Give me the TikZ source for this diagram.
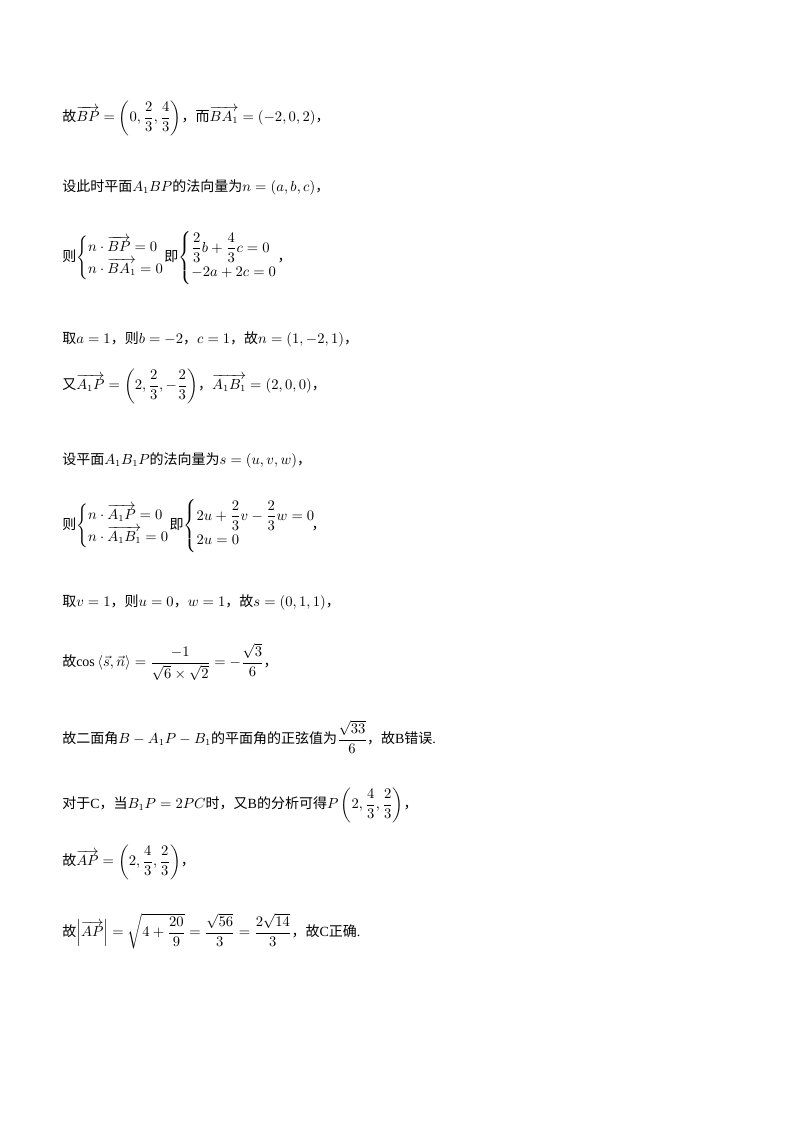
\documentclass[tikz,border=0pt]{standalone}
\usepackage{amsmath}
\usepackage{fontspec}
\setmainfont{Liberation Serif}
\newfontfamily\cjk{Noto Sans CJK SC}
\begin{document}
\begin{tikzpicture}[x=0.75pt,y=-0.75pt]
\useasboundingbox (0,0) rectangle (800,1132);
\tikzset{ln/.style={anchor=west,inner sep=0pt,font=\fontsize{10.5pt}{13pt}\selectfont}}
\newcommand\zh[1]{{\cjk #1}}
\node[ln] (l1) at (62,118) {\zh{故}$\overrightarrow{BP}=\left(0,\dfrac23,\dfrac43\right)$\zh{，而}$\overrightarrow{BA_1}=(-2,0,2)$\zh{，}};
\node[ln] (l2) at (62,187) {\zh{设此时平面}$A_1BP$\zh{的法向量为}$n=(a,b,c)$\zh{，}};
\node[ln] (l3) at (62,258) {\zh{则}$\begin{cases} n\cdot\overrightarrow{BP}=0\\ n\cdot\overrightarrow{BA_1}=0\end{cases}\hspace{-1em}$\zh{即}$\begin{cases}\dfrac23 b+\dfrac43 c=0\\ -2a+2c=0\end{cases}\hspace{-1em}$\zh{，}};
\node[ln] (l4) at (62,339) {\zh{取}$a=1$\zh{，则}$b=-2$\zh{，}$c=1$\zh{，故}$n=(1,-2,1)$\zh{，}};
\node[ln] (l5) at (62,386) {\zh{又}$\overrightarrow{A_1P}=\left(2,\dfrac23,-\dfrac23\right)$\zh{，}$\overrightarrow{A_1B_1}=(2,0,0)$\zh{，}};
\node[ln] (l6) at (62,460) {\zh{设平面}$A_1B_1P$\zh{的法向量为}$s=(u,v,w)$\zh{，}};
\node[ln] (l7) at (62,526) {\zh{则}$\begin{cases} n\cdot\overrightarrow{A_1P}=0\\ n\cdot\overrightarrow{A_1B_1}=0\end{cases}\hspace{-1em}$\zh{即}$\begin{cases}2u+\dfrac23 v-\dfrac23 w=0\\ 2u=0\end{cases}\hspace{-1.3em}$\zh{，}};
\node[ln] (l8) at (62,602) {\zh{取}$v=1$\zh{，则}$u=0$\zh{，}$w=1$\zh{，故}$s=(0,1,1)$\zh{，}};
\node[ln] (l9) at (62,662) {\zh{故}$\cos\left\langle \vec s,\vec n\right\rangle=\dfrac{-1}{\sqrt6\times\sqrt2}=-\dfrac{\sqrt3}{6}$\zh{，}};
\node[ln] (l10) at (62,737) {\zh{故二面角}$B-A_1P-B_1$\zh{的平面角的正弦值为}$\dfrac{\sqrt{33}}{6}$\zh{，故}B\zh{错误}.};
\node[ln] (l11) at (62,805) {\zh{对于}C\zh{，当}$B_1P=2PC$\zh{时，又}B\zh{的分析可得}$P\left(2,\dfrac43,\dfrac23\right)$\zh{，}};
\node[ln] (l12) at (62,862) {\zh{故}$\overrightarrow{AP}=\left(2,\dfrac43,\dfrac23\right)$\zh{，}};
\node[ln] (l13) at (62,931) {\zh{故}$\left|\overrightarrow{AP}\right|=\sqrt{4+\dfrac{20}{9}}=\dfrac{\sqrt{56}}{3}=\dfrac{2\sqrt{14}}{3}$\zh{，故}C\zh{正确}.};
\end{tikzpicture}
\end{document}
